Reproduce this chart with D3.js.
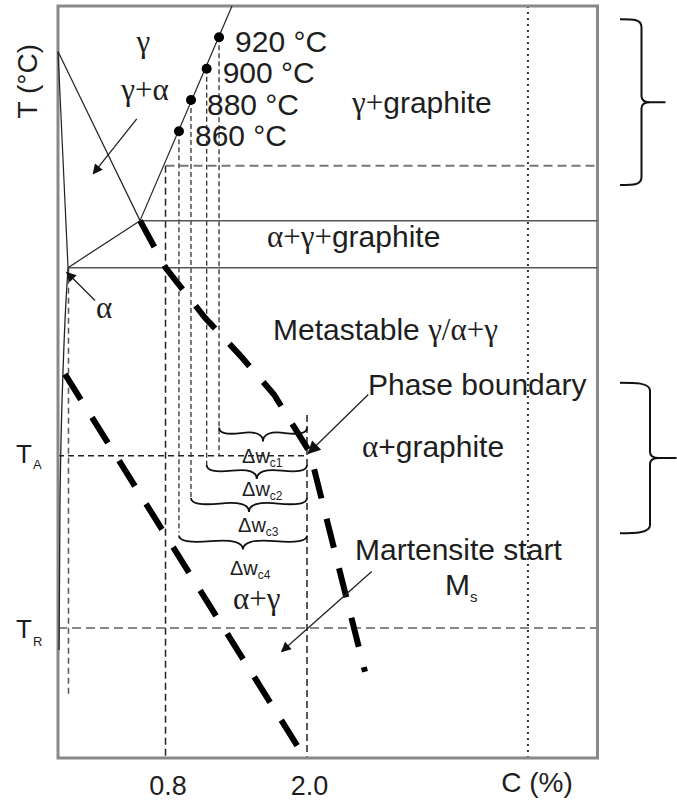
<!DOCTYPE html>
<html>
<head>
<meta charset="utf-8">
<script src="https://cdn.jsdelivr.net/npm/d3@7"></script>
<style>
  body { margin: 0; background: #fff; }
  text { font-family: "Liberation Sans", Arial, sans-serif; fill: #1e1e1e; }
  .gr { font-family: "Liberation Serif", "Times New Roman", serif; }
</style>
</head>
<body>
<svg id="chart" width="677" height="801"></svg>
<script>
'use strict';

// austenitizing temperatures and the carbon in γ read on the Acm line
const austTemps = [920, 900, 880, 860];
const austCarbon = [1.254, 1.149, 1.016, 0.914];
const austLabels = ['920 °C', '900 °C', '880 °C', '860 °C'];
const dropTo = [653, 646, 626, 604];       // where the guide lines stop (°C)
const braceTemps = [671, 647, 626, 602];   // Δw braces, from dot carbon to 2.0 %
const braceSubs = ['c1', 'c2', 'c3', 'c4'];
const braceLabelPos = [[1.449, 648], [1.449, 627], [1.415, 604], [1.347, 577]];

// phase boundaries as [C %, T °C]
const acmLine = [[0.584, 803], [1.364, 940]];
const a3Line = [[-0.112, 911], [0.584, 803]];
const alphaLine = [[-0.112, 911], [-0.027, 773]];
const a1Line = [[-0.027, 773], [0.584, 803]];
const alphaSolvus = [[-0.027, 773], [-0.044, 752], [-0.07, 706], [-0.095, 625], [-0.103, 529]];
const metaBoundary = [[0.584, 803], [0.8, 773], [1.135, 741], [1.432, 717], [1.72, 692], [2.025, 655], [2.492, 515]];
const msLine = [[-0.053, 705], [1.941, 465]];

const tBandTop = 803, tBandLow = 773;
const tGuide = 838;
const tA = 653, tR = 543;
const cEut = 0.8, cGraph = 2.0, cDotted = 3.874, cAlpha = -0.023;
const xTicks = [0.8, 2.0];

// arrows [from, to]
const arrows = [
  { from: [0.556, 868], to: [0.187, 833], big: false },
  { from: [0.202, 752], to: [-0.038, 770], big: false },
  { from: [2.52, 692], to: [2.011, 654.5], big: true },
  { from: [2.549, 579], to: [1.785, 528], big: false }
];

const regionLabels = [
  { c: 0.613, t: 910.6, anchor: 'middle', parts: [['γ', 1]] },
  { c: 0.626, t: 880, anchor: 'middle', parts: [['γ+α', 1]] },
  { c: 2.382, t: 872, parts: [['γ+', 1], ['graphite', 0]] },
  { c: 1.661, t: 786, parts: [['α+γ+', 1], ['graphite', 0]] },
  { c: 0.21, t: 741, parts: [['α', 1]] },
  { c: 1.712, t: 727, parts: [['Metastable ', 0], ['γ/α+γ', 1]] },
  { c: 2.517, t: 692, parts: [['Phase boundary', 0]] },
  { c: 2.466, t: 652, parts: [['α', 1], ['+graphite', 0]] },
  { c: 2.407, t: 586.4, parts: [['Martensite start', 0]] },
  { c: 1.372, t: 555, parts: [['α+γ', 1]] }
];

// right hand braces: T range, spine and tip offsets
const sideBraces = [[931.5, 825.7, 44, 68], [699.6, 603.4, 52.5, 79]];

const svg = d3.select('#chart');
const x = d3.scaleLinear().domain([-0.112, 4.464]).range([58, 597.5]);
const y = d3.scaleLinear().domain([460, 940]).range([758, 6]);
const line = d3.line().x(d => x(d[0])).y(d => y(d[1]));
const [cMin, cMax] = x.domain();

const defs = svg.append('defs');
function marker(id, w, h) {
  defs.append('marker').attr('id', id)
    .attr('viewBox', '0 0 10 10').attr('refX', 9).attr('refY', 5)
    .attr('markerUnits', 'userSpaceOnUse')
    .attr('markerWidth', w).attr('markerHeight', h)
    .attr('orient', 'auto')
    .append('path').attr('d', 'M0,0L10,5L0,10z').attr('fill', '#111');
}
marker('arr', 14, 10);
marker('arrBig', 17, 13);

// thin guide lines
const guides = svg.append('g').attr('fill', 'none');
function seg(pts, stroke, w, dash) {
  guides.append('path').attr('d', line(pts))
    .attr('stroke', stroke).attr('stroke-width', w).attr('stroke-dasharray', dash);
}
seg([[cDotted, 460], [cDotted, 940]], '#333', 2, '2,4');
seg([[cEut, tGuide], [cEut, 460]], '#222', 1.5, '7,4');
seg([[cGraph, 679], [cGraph, 460]], '#222', 1.5, '7,4');
seg([[cAlpha, 773], [cAlpha, 501]], '#555', 1.5, '6,4');
seg([[cEut, tGuide], [cMax, tGuide]], '#777', 2, '9,5');
seg([[cMin, tA], [cGraph, tA]], '#222', 1.5, '6,4');
seg([[cMin, tR], [cMax, tR]], '#888', 2, '9,5');
austCarbon.forEach((c, i) => seg([[c, austTemps[i]], [c, dropTo[i]]], '#333', 1.3, '5,3'));

// frame
svg.append('rect')
  .attr('x', x(cMin)).attr('y', y(940))
  .attr('width', x(cMax) - x(cMin)).attr('height', y(460) - y(940))
  .attr('fill', 'none').attr('stroke', '#888').attr('stroke-width', 3);

// solid boundaries
const solid = svg.append('g').attr('fill', 'none');
[[[0.584, tBandTop], [cMax, tBandTop]], [[-0.027, tBandLow], [cMax, tBandLow]]].forEach(p =>
  solid.append('path').attr('d', line(p)).attr('stroke', '#555').attr('stroke-width', 1.5));
[acmLine, a3Line, alphaLine, a1Line].forEach(p =>
  solid.append('path').attr('d', line(p)).attr('stroke', '#222').attr('stroke-width', 1.2));
solid.append('path').attr('d', d3.line().x(d => x(d[0])).y(d => y(d[1])).curve(d3.curveMonotoneY)(alphaSolvus))
  .attr('stroke', '#222').attr('stroke-width', 1.3);

// heavy dashed metastable boundary and Ms
[metaBoundary, msLine].forEach(p =>
  svg.append('path').attr('d', line(p)).attr('fill', 'none')
    .attr('stroke', '#000').attr('stroke-width', 6).attr('stroke-dasharray', '30,21'));

// dots and temperatures
svg.selectAll('circle.aus').data(austTemps).join('circle')
  .attr('class', 'aus')
  .attr('cx', (d, i) => x(austCarbon[i])).attr('cy', d => y(d)).attr('r', 5).attr('fill', '#000');
svg.selectAll('text.aus').data(austLabels).join('text')
  .attr('class', 'aus')
  .attr('x', (d, i) => x(austCarbon[i]) + 16).attr('y', (d, i) => y(austTemps[i]) + 14.5)
  .attr('font-size', 30).text(d => d);

// Δw braces
function makeCurlyBrace(x1, y1, x2, y2, w, q) {
  let dx = x1 - x2, dy = y1 - y2;
  const len = Math.sqrt(dx * dx + dy * dy);
  dx /= len; dy /= len;
  const qx1 = x1 + q * w * dy, qy1 = y1 - q * w * dx;
  const qx2 = (x1 - .25 * len * dx) + (1 - q) * w * dy, qy2 = (y1 - .25 * len * dy) - (1 - q) * w * dx;
  const tx1 = (x1 - .5 * len * dx) + w * dy, ty1 = (y1 - .5 * len * dy) - w * dx;
  const qx3 = x2 + q * w * dy, qy3 = y2 - q * w * dx;
  const qx4 = (x1 - .75 * len * dx) + (1 - q) * w * dy, qy4 = (y1 - .75 * len * dy) - (1 - q) * w * dx;
  return `M${x1} ${y1} Q${qx1} ${qy1} ${qx2} ${qy2} T${tx1} ${ty1} M${x2} ${y2} Q${qx3} ${qy3} ${qx4} ${qy4} T${tx1} ${ty1}`;
}
svg.selectAll('path.dw').data(braceTemps).join('path')
  .attr('class', 'dw')
  .attr('d', (t, i) => makeCurlyBrace(x(austCarbon[i]), y(t), x(cGraph), y(t), 14, 0.6))
  .attr('fill', 'none').attr('stroke', '#111').attr('stroke-width', 1.8);
braceLabelPos.forEach((p, i) => {
  const t = svg.append('text').attr('x', x(p[0])).attr('y', y(p[1])).attr('font-size', 20);
  t.append('tspan').text('Δw');
  t.append('tspan').attr('font-size', 12).attr('dy', 4).text(braceSubs[i]);
});

// side braces
sideBraces.forEach(b => {
  const x0 = x(cMax) + 22.5, xs = x(cMax) + b[2], xt = x(cMax) + b[3];
  const top = y(b[0]), bot = y(b[1]), mid = (top + bot) / 2;
  const d = `M${x0},${top} C${x0 + 14},${top} ${xs},${top} ${xs},${top + 8}` +
    ` L${xs},${mid - 6} Q${xs},${mid} ${xs + 9},${mid} L${xt},${mid}` +
    ` M${xs + 9},${mid} Q${xs},${mid} ${xs},${mid + 6} L${xs},${bot - 8}` +
    ` C${xs},${bot} ${x0 + 14},${bot} ${x0},${bot}`;
  svg.append('path').attr('d', d).attr('fill', 'none').attr('stroke', '#111').attr('stroke-width', 2);
});

// arrows
arrows.forEach(a => {
  svg.append('line')
    .attr('x1', x(a.from[0])).attr('y1', y(a.from[1]))
    .attr('x2', x(a.to[0])).attr('y2', y(a.to[1]))
    .attr('stroke', '#222').attr('stroke-width', 1.3)
    .attr('marker-end', a.big ? 'url(#arrBig)' : 'url(#arr)');
});

// region labels
regionLabels.forEach(l => {
  const t = svg.append('text').attr('x', x(l.c)).attr('y', y(l.t))
    .attr('font-size', 30).attr('text-anchor', l.anchor || 'start');
  l.parts.forEach(p => t.append('tspan').attr('class', p[1] ? 'gr' : null)
    .attr('font-size', p[1] ? 31 : 30).text(p[0]));
});
const ms = svg.append('text').attr('x', x(3.17)).attr('y', y(564)).attr('font-size', 30);
ms.append('tspan').text('M');
ms.append('tspan').attr('font-size', 15).attr('dy', 7).text('s');

// axes
const xAxis = svg.append('g').attr('transform', `translate(2,${y(460)})`)
  .call(d3.axisBottom(x).tickValues(xTicks).tickFormat(d3.format('.1f')).tickSize(0).tickPadding(18));
xAxis.select('.domain').remove();
xAxis.attr('font-size', 27).attr('font-family', '"Liberation Sans", Arial, sans-serif');
xAxis.selectAll('text').attr('fill', '#1e1e1e');

svg.append('text').attr('x', x(3.951)).attr('y', 792).attr('text-anchor', 'middle')
  .attr('font-size', 28).text('C (%)');
svg.append('text').attr('transform', `translate(37,${y(892)}) rotate(-90)`)
  .attr('text-anchor', 'middle').attr('font-size', 28).text('T (°C)');

[[tA, 'A', 7, 6], [tR, 'R', 10, 8]].forEach(d => {
  const t = svg.append('text').attr('x', 16).attr('y', y(d[0]) + d[2]).attr('font-size', 26);
  t.append('tspan').text('T');
  t.append('tspan').attr('font-size', 13).attr('dy', d[3]).attr('dx', 1).text(d[1]);
});
</script>
</body>
</html>
